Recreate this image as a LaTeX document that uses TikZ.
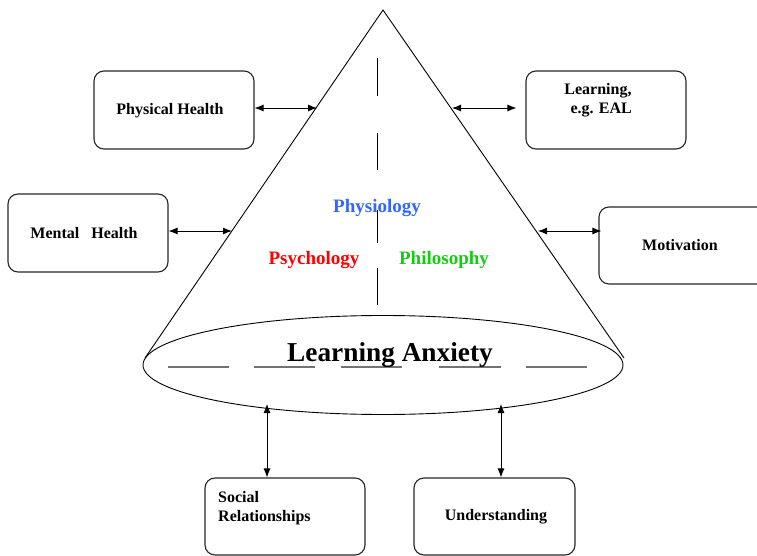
\documentclass[tikz,border=0pt]{standalone}
\usepackage{fontspec}
\setmainfont{Liberation Serif}
\usetikzlibrary{arrows.meta,calc,shapes.geometric}
\definecolor{physblue}{RGB}{51,102,255}
\definecolor{philgreen}{RGB}{20,204,20}
\begin{document}
\begin{tikzpicture}[x=1pt,y=-1pt,
  box/.style={draw=black!85,line width=1.1pt,rounded corners=10pt,inner sep=0pt},
  lbl/.style={font=\bfseries\fontsize{16}{19}\selectfont,inner sep=0pt},
  disc/.style={font=\bfseries\fontsize{19}{22}\selectfont,inner sep=0pt},
  biarrow/.style={line width=0.9pt,{Latex[length=9pt,width=7pt]}-{Latex[length=9pt,width=7pt]}},
  outline/.style={line width=0.9pt,black}]
\useasboundingbox (0,0) rectangle (757,556);
\clip (0,0) rectangle (757,556);
% cone
\coordinate (apex) at (383,10);
\coordinate (bl) at (145,358);
\coordinate (br) at (624,358);
\draw[outline] (bl) -- (apex) -- (br);
\node[draw,outline,ellipse,minimum width=480pt,minimum height=99pt,inner sep=0pt] (base) at (383,365) {};
% central dashed line
\coordinate (vt) at (377,58);
\coordinate (vb) at (377,305);
\draw[line width=1pt,dash pattern=on 38pt off 37pt on 37pt off 40pt on 33pt off 25pt on 37pt off 40pt] (vt) -- (vb);
% horizontal dashes in the ellipse
\coordinate (hl) at (168,367);
\coordinate (hr) at (587,367);
\draw[line width=1.1pt,black!55,dash pattern=on 61pt off 25pt on 61pt off 26pt on 61pt off 37pt on 62pt off 25pt on 61pt off 30pt] (hl) -- (hr);
% labels inside cone
\node[disc,text=physblue] (physio) at (377,208) {Physiology};
\node[disc,text=red] (psych) at (314,260) {Psychology};
\node[disc,text=philgreen] (philo) at (444,260) {Philosophy};
\node[font=\bfseries\fontsize{27.3}{30}\selectfont,inner sep=0pt] (la) at (390,355) {Learning Anxiety};
% boxes
\node[box,minimum width=160pt,minimum height=78pt] (ph) at (174,110) {};
\node[lbl] (phl) at (170,110.5) {Physical Health};
\node[box,minimum width=160pt,minimum height=78pt] (mh) at (88,233) {};
\node[lbl] (mhl) at (84,233) {Mental\hspace{0.75em}Health};
\node[box,minimum width=160pt,minimum height=78pt] (le) at (606,110) {};
\node[lbl,align=center] (lel) at (598,100) {Learning,\\\hspace{0.4em}e.g. EAL};
\node[box,minimum width=176pt,minimum height=77pt] (mo) at (687,245.5) {};
\node[lbl] (mol) at (680,245) {Motivation};
\node[box,minimum width=160pt,minimum height=77pt] (sr) at (285,516.5) {};
\node[lbl,align=left,anchor=west] (srl) at (218,508) {Social\\Relationships};
\node[box,minimum width=161pt,minimum height=77pt] (un) at (494.5,516.5) {};
\node[lbl] (unl) at (496,517) {Understanding};
% connection points on the cone
\coordinate (cph) at (317,108);
\coordinate (cmh) at (232,231);
\coordinate (cle) at (452,108);
\coordinate (cmo) at (538,231);
\coordinate (csr) at (267,404);
\coordinate (cun) at (501,404);
% arrows
\draw[biarrow] (ph.east |- cph) -- (cph);
\draw[biarrow] (mh.east |- cmh) -- (cmh);
\draw[biarrow] (cle) -- ([xshift=-9pt]le.west |- cle);
\draw[biarrow] (cmo) -- ([xshift=3pt]mo.west |- cmo);
\draw[biarrow] (csr) -- (csr |- sr.north);
\draw[biarrow] (cun) -- (cun |- un.north);
\end{tikzpicture}
\end{document}
